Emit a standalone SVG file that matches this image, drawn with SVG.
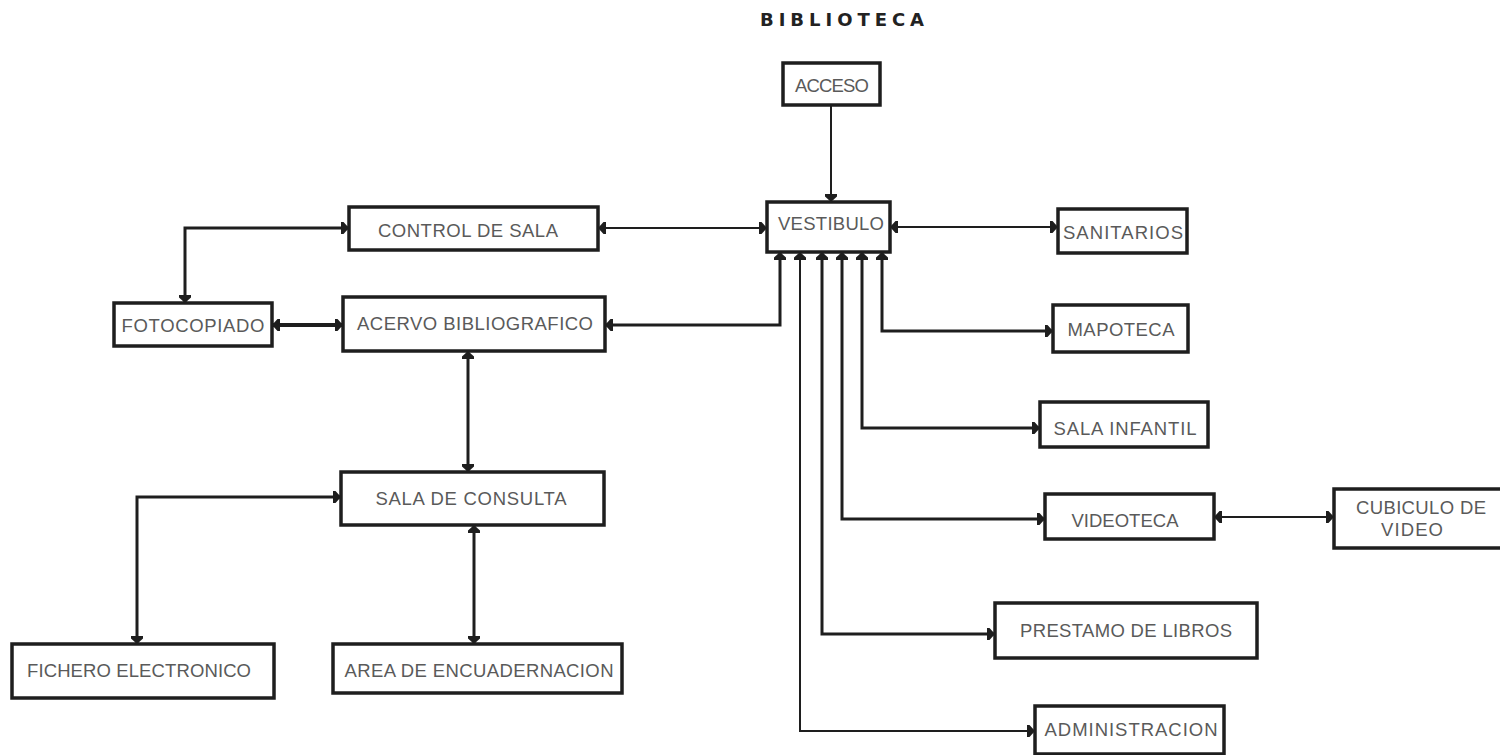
<svg xmlns="http://www.w3.org/2000/svg" width="1500" height="755" viewBox="0 0 1500 755">
<defs>
<style>
.box{fill:#fff;stroke:#1e1e1e;stroke-width:3.5}
.lbl{font-family:"Liberation Sans",Arial,sans-serif;font-size:18.5px;fill:#5a5a5a;text-anchor:middle}
.ttl{font-family:"DejaVu Sans","Liberation Sans",sans-serif;font-size:18px;font-weight:bold;fill:#222;text-anchor:middle}
.c{fill:none;stroke:#1e1e1e;stroke-width:3;marker-start:url(#ah);marker-end:url(#ah)}
.thin{stroke-width:2}
.one{marker-start:none}
</style>
<marker id="ah" viewBox="0 0 8 12" refX="8" refY="6" markerWidth="8" markerHeight="12" orient="auto-start-reverse" markerUnits="userSpaceOnUse">
<path d="M0,0 L2.5,0 L8,6 L2.5,12 L0,12 z" fill="#1e1e1e"/>
</marker>
</defs>
<rect width="1500" height="755" fill="#fff"/>
<text class="ttl" x="842" y="26" textLength="164">BIBLIOTECA</text>
<g id="connectors">
<path class="c thin one" d="M831,105 V202"/>
<path class="c thin" d="M598,228 H767"/>
<path class="c thin" d="M890,227 H1058"/>
<path class="c" d="M349,228 H185 V303"/>
<path class="c" d="M272,325 H343" style="stroke-width:4"/>
<path class="c" d="M780,252 V325 H605"/>
<path class="c" d="M468,351 V472"/>
<path class="c" d="M341,497 H137 V644"/>
<path class="c" d="M474,525 V644"/>
<path class="c" d="M882,252 V331 H1053"/>
<path class="c" d="M862,252 V428 H1040"/>
<path class="c" d="M842,252 V519 H1045"/>
<path class="c" d="M822,252 V634 H995"/>
<path class="c thin" d="M800,252 V731 H1035"/>
<path class="c thin" d="M1214,517 H1334"/>
</g>
<g id="acceso"><rect class="box" x="783" y="63" width="97" height="42"/><text class="lbl" x="832" y="92" textLength="74">ACCESO</text></g>
<g id="vestibulo"><rect class="box" x="767" y="202" width="123" height="50"/><text class="lbl" x="831" y="230" textLength="106">VESTIBULO</text></g>
<g id="control"><rect class="box" x="349" y="207" width="249" height="43"/><text class="lbl" x="468" y="237" textLength="180">CONTROL DE SALA</text></g>
<g id="sanitarios"><rect class="box" x="1058" y="209" width="129" height="44"/><text class="lbl" x="1123" y="239" textLength="120">SANITARIOS</text></g>
<g id="fotocopiado"><rect class="box" x="114" y="303" width="158" height="43"/><text class="lbl" x="193" y="332" textLength="143">FOTOCOPIADO</text></g>
<g id="acervo"><rect class="box" x="343" y="297" width="262" height="54"/><text class="lbl" x="475" y="330" textLength="236">ACERVO BIBLIOGRAFICO</text></g>
<g id="mapoteca"><rect class="box" x="1053" y="305" width="135" height="47"/><text class="lbl" x="1121" y="336" textLength="107">MAPOTECA</text></g>
<g id="sala-infantil"><rect class="box" x="1040" y="402" width="168" height="45"/><text class="lbl" x="1125" y="435" textLength="143">SALA INFANTIL</text></g>
<g id="sala-consulta"><rect class="box" x="341" y="472" width="263" height="53"/><text class="lbl" x="471" y="505" textLength="191">SALA DE CONSULTA</text></g>
<g id="videoteca"><rect class="box" x="1045" y="494" width="169" height="45"/><text class="lbl" x="1125" y="527" textLength="107">VIDEOTECA</text></g>
<g id="cubiculo"><rect class="box" x="1334" y="489" width="170" height="59"/><text class="lbl" x="1421" y="514" textLength="130">CUBICULO DE</text><text class="lbl" x="1412" y="536" textLength="62">VIDEO</text></g>
<g id="prestamo"><rect class="box" x="995" y="603" width="262" height="55"/><text class="lbl" x="1126" y="637" textLength="212">PRESTAMO DE LIBROS</text></g>
<g id="fichero"><rect class="box" x="12" y="644" width="262" height="54"/><text class="lbl" x="139" y="677" textLength="224">FICHERO ELECTRONICO</text></g>
<g id="encuadernacion"><rect class="box" x="333" y="644" width="289" height="49"/><text class="lbl" x="479" y="677" textLength="269">AREA DE ENCUADERNACION</text></g>
<g id="administracion"><rect class="box" x="1035" y="706" width="189" height="48"/><text class="lbl" x="1131" y="736" textLength="173">ADMINISTRACION</text></g>
</svg>
